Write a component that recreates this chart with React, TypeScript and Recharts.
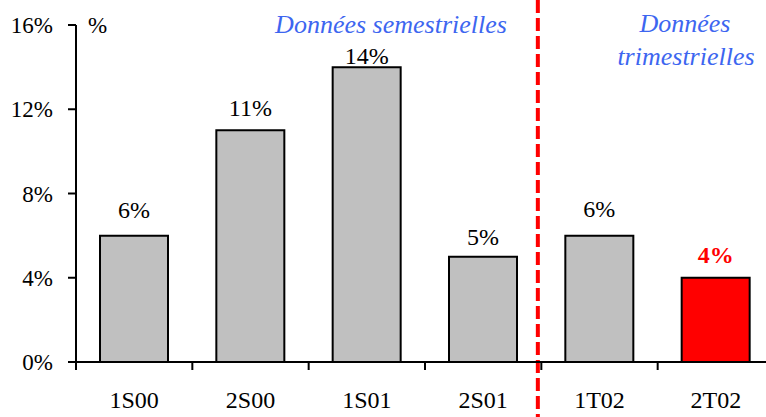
import React from 'react';
import { BarChart, Bar, XAxis, YAxis, ReferenceLine, LabelList, Cell } from 'recharts';

const categories = ['1S00', '2S00', '1S01', '2S01', '1T02', '2T02'];
const values = [6, 11, 14, 5, 6, 4];
const yTicks = [0, 4, 8, 12, 16];
const highlightIndex = 5;
const separatorCategory = '2S01'; // last semester category, separator drawn at its right edge
const separatorAt = 3.97; // separator position in category units (0 = left edge of plot)
const labelOffsets = [18, 14, 3, 12, 19, 15];

const FONT = '"Liberation Serif", "Times New Roman", serif';
const BLUE = '#3D66F0';

const CHART_W = 776;
const CHART_H = 417;
const MARGIN = { top: 25, right: 2, bottom: 0, left: 0 };
const Y_W = 76;
const X_H = 55;
const STEP = (CHART_W - MARGIN.left - MARGIN.right - Y_W) / categories.length;
const HALF = STEP / 2;

const data = categories.map((c, i) => ({ cat: c, value: values[i], idx: i }));

const XTick = (props: any) => {
  const { x, y, payload } = props;
  return (
    <g>
      <line x1={x - HALF} x2={x - HALF} y1={y} y2={y + 8} stroke="#000" strokeWidth={2} />
      <text x={x} y={y + 46} textAnchor="middle" fontSize={24} fontFamily={FONT} fill="#000">
        {payload.value}
      </text>
    </g>
  );
};

const BarLabel = (props: any) => {
  const vb = props.viewBox || {};
  const x = vb.x ?? props.x;
  const y = vb.y ?? props.y;
  const w = vb.width ?? props.width;
  const idx = props.value as number;
  const hl = idx === highlightIndex;
  return (
    <text
      x={x + w / 2}
      y={y - labelOffsets[idx]}
      textAnchor="middle"
      fontSize={24}
      fontFamily={FONT}
      fontWeight={hl ? 'bold' : 'normal'}
      fill={hl ? '#FF0000' : '#000'}
    >
      {`${values[idx]}%`}
    </text>
  );
};

const SeparatorShape = (props: any) => {
  const x1 = props.x1 ?? 0;
  const ya = Math.min(props.y1, props.y2);
  const yb = Math.max(props.y1, props.y2);
  const sepIdx = categories.indexOf(separatorCategory);
  const x = x1 + (separatorAt - (sepIdx + 0.5)) * STEP;
  return (
    <line
      x1={x}
      x2={x}
      y1={ya - MARGIN.top}
      y2={yb + X_H}
      stroke="#FF0000"
      strokeWidth={4}
      strokeDasharray="13 5"
    />
  );
};

export default function App() {
  return (
    <div
      style={{
        position: 'absolute',
        left: 0,
        top: 0,
        width: 766,
        height: 417,
        overflow: 'hidden',
        background: '#fff',
      }}
    >
      <BarChart
        width={CHART_W}
        height={CHART_H}
        data={data}
        margin={MARGIN}
        barCategoryGap={24}
      >
        <XAxis
          dataKey="cat"
          height={X_H}
          interval={0}
          tickSize={0}
          tickMargin={0}
          tickLine={false}
          axisLine={{ stroke: '#000', strokeWidth: 2 }}
          tick={<XTick />}
        />
        <YAxis
          width={Y_W}
          domain={[0, 16]}
          ticks={yTicks}
          interval={0}
          tickFormatter={(v: number) => `${v}%`}
          tickSize={8}
          tickMargin={15}
          axisLine={{ stroke: '#000', strokeWidth: 2 }}
          tickLine={{ stroke: '#000', strokeWidth: 2 }}
          tick={{ fontSize: 23, fill: '#000', fontFamily: FONT }}
          allowDataOverflow
        />
        <Bar dataKey="value" fill="#C0C0C0" stroke="#000" strokeWidth={2} isAnimationActive={false}>
          {data.map((d, i) => (
            <Cell key={d.cat} fill={i === highlightIndex ? '#FF0000' : '#C0C0C0'} />
          ))}
          <LabelList dataKey="idx" content={<BarLabel />} />
        </Bar>
        <ReferenceLine
          x={separatorCategory}
          ifOverflow="visible"
          stroke="#FF0000"
          shape={<SeparatorShape />}
        />
      </BarChart>
      <svg
        width={766}
        height={417}
        style={{ position: 'absolute', left: 0, top: 0, pointerEvents: 'none' }}
      >
        <text x={88} y={33} fontSize={23} fontFamily={FONT} fill="#000">%</text>
        <text x={391} y={33} textAnchor="middle" fontSize={26} fontStyle="italic" fontFamily={FONT} fill={BLUE}>
          Données semestrielles
        </text>
        <text x={685} y={32} textAnchor="middle" fontSize={26} fontStyle="italic" fontFamily={FONT} fill={BLUE}>
          Données
        </text>
        <text x={686} y={65} textAnchor="middle" fontSize={26} fontStyle="italic" fontFamily={FONT} fill={BLUE}>
          trimestrielles
        </text>
      </svg>
    </div>
  );
}
